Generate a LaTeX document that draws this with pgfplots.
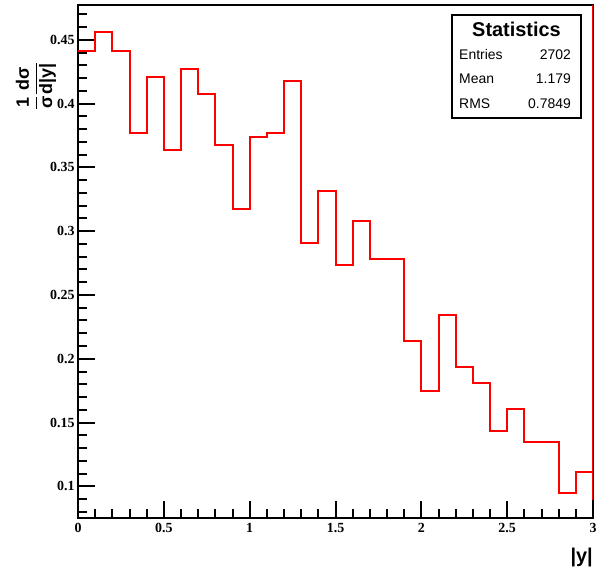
\documentclass[border=0pt]{standalone}
\usepackage{fontspec}
\setmainfont{Liberation Sans}
\newfontfamily\tickfont{Liberation Serif}
\usepackage{pgfplots}
\pgfplotsset{compat=1.18}
\definecolor{histred}{RGB}{255,0,0}
\begin{document}
\begin{tikzpicture}[x=1bp,y=1bp]
\useasboundingbox (0,0) rectangle (611,571);
\begin{axis}[
  at={(78bp,53bp)}, anchor=south west,
  scale only axis, width=515bp, height=513bp,
  xmin=0, xmax=3, ymin=0.0752, ymax=0.4773,
  axis line style={line width=2bp},
  tick align=inside, tick pos=left,
  major tick length=17bp, minor tick length=9bp,
  every tick/.append style={line width=2bp, black},
  xtick={0,0.5,1,1.5,2,2.5,3},
  minor xtick={0.1,0.2,0.3,0.4,0.6,0.7,0.8,0.9,1.1,1.2,1.3,1.4,1.6,1.7,1.8,1.9,2.1,2.2,2.3,2.4,2.6,2.7,2.8,2.9},
  ytick={0.1,0.15,0.2,0.25,0.3,0.35,0.4,0.45},
  minor ytick={0.08,0.09,0.11,0.12,0.13,0.14,0.16,0.17,0.18,0.19,0.21,0.22,0.23,0.24,0.26,0.27,0.28,0.29,0.31,0.32,0.33,0.34,0.36,0.37,0.38,0.39,0.41,0.42,0.43,0.44,0.46,0.47},
  /pgf/number format/assume math mode=true,
  /pgf/number format/fixed,
  ticklabel style={font=\tickfont\bfseries\fontsize{14}{14}\selectfont},
  xticklabel style={yshift=-2bp},
]
\addplot[const plot, draw=histred, line width=2bp, mark=none] coordinates {
(0.0,0.441)(0.1,0.4565)(0.2,0.441)(0.3,0.3766)(0.4,0.4205)(0.5,0.364)
(0.6,0.4268)(0.7,0.4078)(0.8,0.3674)(0.9,0.317)(1.0,0.3737)(1.1,0.3766)
(1.2,0.418)(1.3,0.2908)(1.4,0.3313)(1.5,0.2734)(1.6,0.3078)(1.7,0.2781)
(1.8,0.2781)(1.9,0.2141)(2.0,0.1745)(2.1,0.2344)(2.2,0.1935)(2.3,0.181)
(2.4,0.1432)(2.5,0.1607)(2.6,0.1344)(2.7,0.1344)(2.8,0.0948)(2.9,0.1109)
(3.0,0.1109)};
\addplot[draw=histred, line width=2bp, mark=none] coordinates {(3,0.089)(3,0.4773)};
\end{axis}
\draw[line width=2bp, fill=white] (452,453) rectangle (581,556);
\node[anchor=base, font=\bfseries\fontsize{20}{20}\selectfont, inner sep=0] at (516.5,534.5) {Statistics};
\node[anchor=base west, font=\fontsize{14}{14}\selectfont, inner sep=0] at (459,511.5) {Entries};
\node[anchor=base east, font=\fontsize{14}{14}\selectfont, inner sep=0] at (571,511.5) {2702};
\node[anchor=base west, font=\fontsize{14}{14}\selectfont, inner sep=0] at (459,487) {Mean};
\node[anchor=base east, font=\fontsize{14}{14}\selectfont, inner sep=0] at (571,487) {1.179};
\node[anchor=base west, font=\fontsize{14}{14}\selectfont, inner sep=0] at (459,462) {RMS};
\node[anchor=base east, font=\fontsize{14}{14}\selectfont, inner sep=0] at (571,462) {0.7849};
\node[rotate=90, font=\bfseries\fontsize{18}{18}\selectfont, inner sep=0] at (36,485)
  {$\displaystyle\frac{\mbox{1}}{\mbox{σ}}\frac{\mbox{dσ}}{\mbox{d|y|}}$};
\node[anchor=south east, font=\bfseries\fontsize{20}{20}\selectfont, inner sep=0] at (593,4) {|y|};
\end{tikzpicture}
\end{document}
